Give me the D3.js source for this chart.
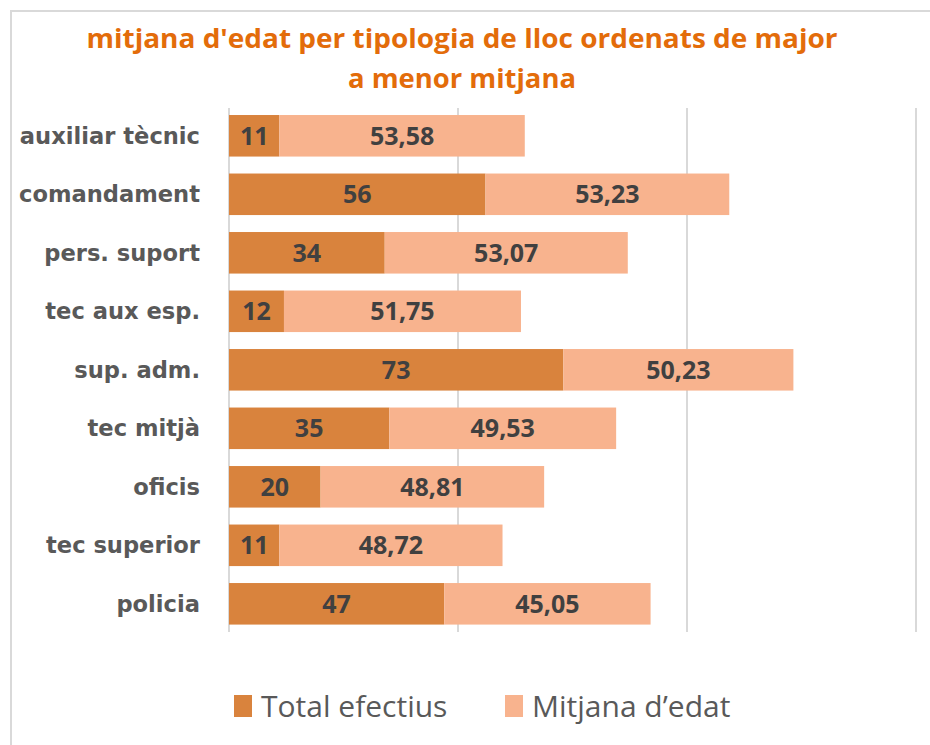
<!DOCTYPE html>
<html>
<head>
<meta charset="utf-8">
<script src="https://cdn.jsdelivr.net/npm/d3@7"></script>
<style>
  body { margin: 0; background: #ffffff; }
  .catLabel { font-family: "DejaVu Sans", Verdana, sans-serif; font-weight: bold; font-size: 22.6px; fill: #595959; }
  .valLabel { font-family: "Open Sans", sans-serif; font-weight: bold; font-size: 25px; fill: #404040; }
  .legendText { font-family: "Open Sans", sans-serif; font-size: 30px; fill: #595959; }
  .title { font-family: "Open Sans", sans-serif; font-weight: bold; font-size: 27px; fill: #E36C0A; }
</style>
</head>
<body>
<svg id="chart"></svg>
<script>
var categories = ["auxiliar tècnic", "comandament", "pers. suport", "tec aux esp.", "sup. adm.", "tec mitjà", "oficis", "tec superior", "policia"];
var totalEfectius = [11, 56, 34, 12, 73, 35, 20, 11, 47];
var mitjanaEdat = [53.58, 53.23, 53.07, 51.75, 50.23, 49.53, 48.81, 48.72, 45.05];
var seriesNames = ["Total efectius", "Mitjana d\u2019edat"];
var xTicks = [0, 50, 100, 150];
var titleLines = ["mitjana d'edat per tipologia de lloc ordenats de major", "a menor mitjana"];

var colors = ["#D9833D", "#F8B38E"];

var width = 930, height = 745;

var svg = d3.select("#chart")
    .attr("width", width)
    .attr("height", height);

// outer chart border (runs past the right and bottom edges)
svg.append("rect")
    .attr("x", 11)
    .attr("y", 11)
    .attr("width", 1000)
    .attr("height", 1000)
    .attr("fill", "none")
    .attr("stroke", "#d9d9d9")
    .attr("stroke-width", 2);

var titleWidths = [751, 228];
svg.selectAll(".title")
    .data(titleLines)
    .enter().append("text")
    .attr("class", "title")
    .attr("x", 462)
    .attr("y", function (d, i) { return 48 + i * 40; })
    .attr("text-anchor", "middle")
    .attr("textLength", function (d, i) { return titleWidths[i]; })
    .attr("lengthAdjust", "spacingAndGlyphs")
    .text(function (d) { return d; });

var xScale = d3.scaleLinear().domain([0, 150]).range([229, 916]);
var yScale = d3.scaleBand().domain(categories).range([108, 631.6]).paddingInner(0.29).paddingOuter(0.12);

// gridlines
svg.selectAll(".grid")
    .data(xTicks)
    .enter().append("line")
    .attr("class", "grid")
    .attr("x1", function (d) { return xScale(d); })
    .attr("x2", function (d) { return xScale(d); })
    .attr("y1", 108)
    .attr("y2", 632)
    .attr("stroke", "#d9d9d9")
    .attr("stroke-width", 2);

var rows = categories.map(function (c, i) {
    return { cat: c, total: totalEfectius[i], mean: mitjanaEdat[i] };
});

var locale = d3.formatLocale({ decimal: ",", thousands: ".", grouping: [3], currency: ["", "€"] });
var fmt2 = locale.format(".2f");

var bars = svg.selectAll(".row")
    .data(rows)
    .enter().append("g")
    .attr("class", "row");

bars.append("rect")
    .attr("x", function (d) { return xScale(0); })
    .attr("y", function (d) { return yScale(d.cat); })
    .attr("width", function (d) { return xScale(d.total) - xScale(0); })
    .attr("height", yScale.bandwidth())
    .attr("fill", colors[0]);

bars.append("rect")
    .attr("x", function (d) { return xScale(d.total); })
    .attr("y", function (d) { return yScale(d.cat); })
    .attr("width", function (d) { return xScale(d.total + d.mean) - xScale(d.total); })
    .attr("height", yScale.bandwidth())
    .attr("fill", colors[1]);

bars.append("text")
    .attr("class", "valLabel")
    .attr("x", function (d) { return (xScale(0) + xScale(d.total)) / 2; })
    .attr("y", function (d) { return yScale(d.cat) + yScale.bandwidth() / 2; })
    .attr("dy", "0.36em")
    .attr("text-anchor", "middle")
    .text(function (d) { return d.total; });

bars.append("text")
    .attr("class", "valLabel")
    .attr("x", function (d) { return (xScale(d.total) + xScale(d.total + d.mean)) / 2; })
    .attr("y", function (d) { return yScale(d.cat) + yScale.bandwidth() / 2; })
    .attr("dy", "0.36em")
    .attr("text-anchor", "middle")
    .text(function (d) { return fmt2(d.mean); });

bars.append("text")
    .attr("class", "catLabel")
    .attr("x", 200)
    .attr("y", function (d) { return yScale(d.cat) + yScale.bandwidth() / 2; })
    .attr("dy", "0.36em")
    .attr("text-anchor", "end")
    .text(function (d) { return d.cat; });

// legend
var legendX = [234, 505];
var legend = svg.selectAll(".legendItem")
    .data(seriesNames)
    .enter().append("g")
    .attr("class", "legendItem")
    .attr("transform", function (d, i) { return "translate(" + legendX[i] + ",695)"; });

legend.append("rect")
    .attr("width", 18)
    .attr("height", 22)
    .attr("fill", function (d, i) { return colors[i]; });

legend.append("text")
    .attr("class", "legendText")
    .attr("x", 27)
    .attr("y", 22)
    .text(function (d) { return d; });
</script>
</body>
</html>
